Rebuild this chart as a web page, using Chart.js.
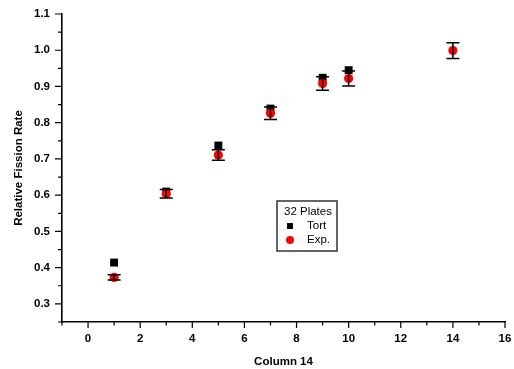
<!DOCTYPE html>
<html>
<head>
<meta charset="utf-8">
<script src="https://cdn.jsdelivr.net/npm/chart.js@4.4.1/dist/chart.umd.min.js"></script>
<style>
  html, body { margin: 0; padding: 0; background: #fff; }
  canvas { display: block; }
</style>
</head>
<body>
<canvas id="chart" width="514" height="369"></canvas>
<script>
// Column 14 positions and relative fission rates
const columns = [1, 3, 5, 7, 9, 10, 14];
const tortRate = [0.414, 0.61, 0.737, 0.839, 0.924, 0.945, null];
const expRate = [0.373, 0.604, 0.711, 0.826, 0.908, 0.922, 0.999];
const expErr = [0.0074, 0.012, 0.0145, 0.017, 0.0185, 0.0205, 0.0215];

// axis ticks
const xMajor = [0, 2, 4, 6, 8, 10, 12, 14, 16];
const xMinor = [-1, 1, 3, 5, 7, 9, 11, 13, 15];
const yMajor = [0.3, 0.4, 0.5, 0.6, 0.7, 0.8, 0.9, 1.0, 1.1];
const yMinor = [0.25, 0.35, 0.45, 0.55, 0.65, 0.75, 0.85, 0.95, 1.05];

const legendTitle = "32 Plates";
const FONT = "'Liberation Sans', Arial, sans-serif";

function toPoints(ys) {
    return columns.map((x, i) => ({ x: x, y: ys[i] })).filter(p => p.y !== null);
}

// error bars on the Exp. series
const errorBars = {
    id: "errorBars",
    afterDatasetsDraw(chart) {
        const xs = chart.scales.x, ys = chart.scales.y, ctx = chart.ctx;
        ctx.save();
        ctx.strokeStyle = "#000";
        ctx.lineWidth = 1.5;
        columns.forEach((c, i) => {
            const px = xs.getPixelForValue(c);
            const top = ys.getPixelForValue(expRate[i] + expErr[i]);
            const bot = ys.getPixelForValue(expRate[i] - expErr[i]);
            ctx.beginPath();
            ctx.moveTo(px, top); ctx.lineTo(px, bot);
            ctx.moveTo(px - 6.5, top); ctx.lineTo(px + 6.5, top);
            ctx.moveTo(px - 6.5, bot); ctx.lineTo(px + 6.5, bot);
            ctx.stroke();
        });
        ctx.restore();
    }
};

// outward major / minor tick marks
const tickMarks = {
    id: "tickMarks",
    afterDraw(chart) {
        const xs = chart.scales.x, ys = chart.scales.y, ctx = chart.ctx;
        const area = chart.chartArea;
        ctx.save();
        ctx.strokeStyle = "#000";
        ctx.lineWidth = 1.2;
        ctx.beginPath();
        xMajor.forEach(v => { const p = xs.getPixelForValue(v); ctx.moveTo(p, area.bottom); ctx.lineTo(p, area.bottom + 6); });
        xMinor.forEach(v => { const p = xs.getPixelForValue(v); ctx.moveTo(p, area.bottom); ctx.lineTo(p, area.bottom + 3.5); });
        yMajor.forEach(v => { const p = ys.getPixelForValue(v); ctx.moveTo(area.left, p); ctx.lineTo(area.left - 7, p); });
        yMinor.forEach(v => { const p = ys.getPixelForValue(v); ctx.moveTo(area.left, p); ctx.lineTo(area.left - 4, p); });
        ctx.stroke();
        ctx.restore();
    }
};

// boxed legend inside the plot
const boxLegend = {
    id: "boxLegend",
    afterDraw(chart) {
        const ctx = chart.ctx;
        const bx = 277, by = 201, bw = 60, bh = 50;
        ctx.save();
        ctx.strokeStyle = "#333";
        ctx.lineWidth = 1.5;
        ctx.strokeRect(bx, by, bw, bh);
        ctx.fillStyle = "#000";
        ctx.font = "11.5px " + FONT;
        ctx.textBaseline = "middle";
        ctx.fillText(legendTitle, bx + 7, by + 11);
        const rows = [by + 25, by + 39];
        chart.data.datasets.forEach((ds, i) => {
            const opts = { pointStyle: ds.pointStyle, radius: i === 0 ? 4.2 : 4, borderWidth: 0 };
            ctx.fillStyle = ds.backgroundColor;
            ctx.strokeStyle = ds.backgroundColor;
            Chart.helpers.drawPoint(ctx, opts, bx + 13, rows[i]);
            ctx.fillStyle = "#000";
            ctx.fillText(ds.label, bx + 30, rows[i]);
        });
        ctx.restore();
    }
};

new Chart(document.getElementById("chart"), {
    type: "scatter",
    data: {
        datasets: [
            {
                label: "Tort",
                data: toPoints(tortRate),
                pointStyle: "rect",
                pointRadius: 5.6,
                backgroundColor: "#000",
                borderColor: "#000",
                borderWidth: 0,
                order: 1
            },
            {
                label: "Exp.",
                data: toPoints(expRate),
                pointStyle: "circle",
                pointRadius: 4.6,
                backgroundColor: "#ff0000",
                borderColor: "#ff0000",
                borderWidth: 0,
                order: 0
            }
        ]
    },
    options: {
        responsive: false,
        animation: false,
        layout: { padding: { top: 14, right: 9, left: 0, bottom: 0 } },
        plugins: { legend: { display: false }, tooltip: { enabled: false } },
        scales: {
            x: {
                type: "linear",
                min: -1,
                max: 16,
                afterBuildTicks: s => { s.ticks = xMajor.map(v => ({ value: v })); },
                afterFit: s => { s.height = 47; s.paddingLeft = 0; s.paddingRight = 0; },
                ticks: { padding: 10, color: "#000", font: { family: FONT, size: 11.5, weight: "bold" } },
                grid: { display: true, drawOnChartArea: false, drawTicks: false },
                border: { display: true, color: "#000", width: 1.6 },
                title: {
                    display: true, text: "Column 14", color: "#000",
                    font: { family: FONT, size: 11.5, weight: "bold" },
                    padding: { top: 0, bottom: 0 }
                }
            },
            y: {
                type: "linear",
                min: 0.25,
                max: 1.1,
                afterBuildTicks: s => { s.ticks = yMajor.map(v => ({ value: v })); },
                afterFit: s => { s.width = 62; s.paddingTop = 0; s.paddingBottom = 0; },
                ticks: {
                    padding: 12, color: "#000",
                    font: { family: FONT, size: 11.5, weight: "bold" },
                    callback: v => v.toFixed(1)
                },
                grid: { display: true, drawOnChartArea: false, drawTicks: false },
                border: { display: true, color: "#000", width: 1.6 },
                title: {
                    display: true, text: "Relative Fission Rate", color: "#000",
                    font: { family: FONT, size: 11.5, weight: "bold" },
                    padding: { top: 12, bottom: 0 }
                }
            }
        }
    },
    plugins: [errorBars, tickMarks, boxLegend]
});
</script>
</body>
</html>
